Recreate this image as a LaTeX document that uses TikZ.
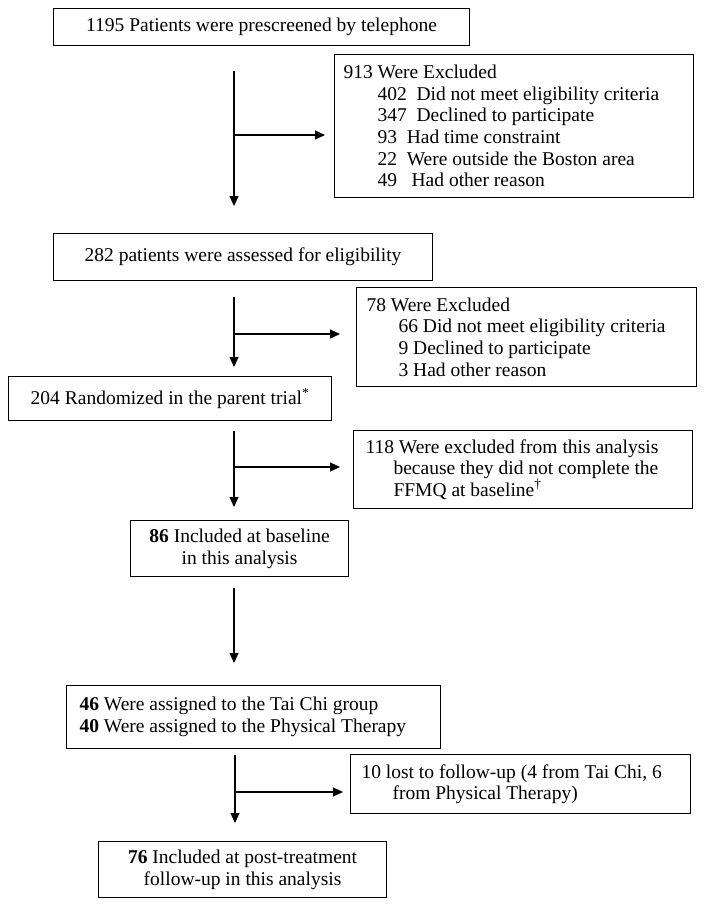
\documentclass[tikz,border=0pt]{standalone}
\usepackage{fontspec}
\setmainfont{Liberation Serif}
\usetikzlibrary{arrows.meta}
\begin{document}
\begin{tikzpicture}[x=1pt, y=-1pt,
    box/.style={draw, line width=1.1pt, anchor=north west, inner sep=0pt,
      font=\fontsize{19.5}{21.6}\selectfont},
    flow/.style={line width=1.1pt, -{Triangle[length=10pt, width=9pt]}}]
    \useasboundingbox (0,0) rectangle (704,907);

    \node[box, minimum width=416pt, minimum height=37pt] (screen) at (53,8) {1195 Patients were prescreened by telephone};
    \node[box, align=flush left, inner xsep=9pt, text width=341pt, minimum height=143pt] (excl1) at (334,54)
      {913 Were Excluded\\
       \hspace*{34pt}402~ Did not meet eligibility criteria\\
       \hspace*{34pt}347~ Declined to participate\\
       \hspace*{34pt}93~ Had time constraint\\
       \hspace*{34pt}22~ Were outside the Boston area\\
       \hspace*{34pt}49~~ Had other reason};
    \node[box, minimum width=379pt, minimum height=47pt] (elig) at (53,233) {282 patients were assessed for eligibility};
    \node[box, align=flush left, inner xsep=10pt, text width=320pt, minimum height=99pt] (excl2) at (356,287)
      {78 Were Excluded\\
       \hspace*{32pt}66 Did not meet eligibility criteria\\
       \hspace*{32pt}9 Declined to participate\\
       \hspace*{32pt}3 Had other reason};
    \node[box, minimum width=323pt, minimum height=44pt] (rand) at (8,376) {204 Randomized in the parent trial\textsuperscript{*}};
    \node[box, align=flush left, inner xsep=12pt, text width=315pt, minimum height=78pt] (excl3) at (353,430)
      {118 Were excluded from this analysis\\
       \hspace*{28pt}because they did not complete the\\
       \hspace*{28pt}FFMQ at baseline\textsuperscript{\textdagger}};
    \node[box, align=center, minimum width=218pt, minimum height=56pt] (base) at (130,520)
      {\textbf{86} Included at baseline\\in this analysis};
    \node[box, align=flush left, inner xsep=13pt, text width=348pt, minimum height=63pt] (groups) at (66,685)
      {\textbf{46} Were assigned to the Tai Chi group\\
       \textbf{40} Were assigned to the Physical Therapy};
    \node[box, align=flush left, inner xsep=11pt, text width=318pt, minimum height=59pt] (lost) at (350,754)
      {10 lost to follow-up (4 from Tai Chi, 6\\
       \hspace*{31pt}from Physical Therapy)};
    \node[box, align=center, minimum width=288pt, minimum height=56pt] (post) at (98,841)
      {\textbf{76} Included at post-treatment\\follow-up in this analysis};

    % arrow column
    \coordinate (a1s) at (234,71);  \coordinate (a1j) at (234,135); \coordinate (a1e) at (234,206);
    \coordinate (a2s) at (234,297); \coordinate (a2j) at (234,334); \coordinate (a2e) at (234,367);
    \coordinate (a3s) at (234,431); \coordinate (a3j) at (234,467); \coordinate (a3e) at (234,507);
    \coordinate (a4s) at (234,588); \coordinate (a4e) at (234,663);
    \coordinate (a5s) at (235,755); \coordinate (a5j) at (235,792); \coordinate (a5e) at (235,823);

    \draw[flow] (a1s) -- (a1e);
    \draw[flow, shorten >=9pt] (a1j) -- (a1j -| excl1.west);
    \draw[flow] (a2s) -- (a2e);
    \draw[flow, shorten >=16pt] (a2j) -- (a2j -| excl2.west);
    \draw[flow] (a3s) -- (a3e);
    \draw[flow, shorten >=13pt] (a3j) -- (a3j -| excl3.west);
    \draw[flow] (a4s) -- (a4e);
    \draw[flow] (a5s) -- (a5e);
    \draw[flow, shorten >=7pt] (a5j) -- (a5j -| lost.west);
\end{tikzpicture}
\end{document}
